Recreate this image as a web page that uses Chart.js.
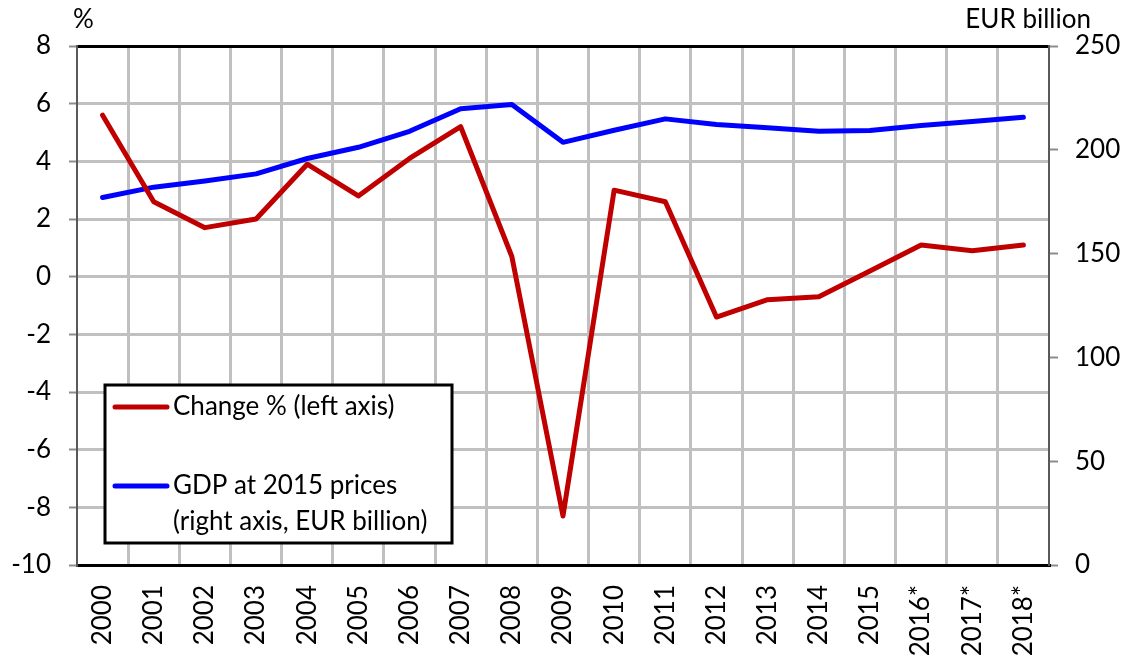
<!DOCTYPE html>
<html>
<head>
<meta charset="utf-8">
<script src="https://cdn.jsdelivr.net/npm/chart.js@4"></script>
<style>
  html, body { margin: 0; padding: 0; background: #fff; }
  #wrap { width: 1129px; height: 659px; }
</style>
</head>
<body>
<div id="wrap"><canvas id="gdpChart" width="1129" height="659"></canvas></div>
<script>
const years = ["2000", "2001", "2002", "2003", "2004", "2005", "2006", "2007", "2008", "2009",
    "2010", "2011", "2012", "2013", "2014", "2015", "2016*", "2017*", "2018*"];
const changePct = [5.6, 2.6, 1.7, 2.0, 3.9, 2.8, 4.1, 5.2, 0.7, -8.3,
    3.0, 2.6, -1.4, -0.8, -0.7, 0.2, 1.1, 0.9, 1.1];
const gdpBillion = [177, 182, 185, 188.4, 195.8, 201.2, 208.9, 219.8, 221.8, 203.6,
    209.4, 214.9, 212.2, 210.6, 208.9, 209.3, 211.7, 213.6, 215.7];
const leftTicks = { min: -10, max: 8, step: 2 };
const rightTicks = { min: 0, max: 250, step: 50 };
const seriesLabels = ["Change % (left axis)", "GDP at 2015 prices (right axis, EUR billion)"];
const legendLines = [["Change % (left axis)"], ["GDP at 2015 prices", "(right axis, EUR billion)"]];
const axisTitles = ["%", "EUR billion"];

const FONT = "Lato, 'Open Sans', sans-serif";
const FSIZE = 26;
const RED = "#c00000";
const BLUE = "#0000ff";

const boxPlugin = {
    id: "boxLegend",
    afterDraw(chart) {
        const ctx = chart.ctx;
        ctx.save();
        // axis titles
        ctx.fillStyle = "#000";
        ctx.font = FSIZE + "px " + FONT;
        ctx.textBaseline = "alphabetic";
        ctx.textAlign = "left";
        ctx.fillText(axisTitles[0], 73, 28);
        ctx.textAlign = "right";
        ctx.fillText(axisTitles[1], 1091, 28);

        // legend box
        ctx.fillStyle = "#fff";
        ctx.fillRect(105, 385, 347, 158);
        ctx.strokeStyle = "#000";
        ctx.lineWidth = 3;
        ctx.strokeRect(105, 385, 347, 158);

        const rows = [407, 486];
        chart.data.datasets.forEach((ds, i) => {
            const y = rows[i];
            ctx.strokeStyle = ds.borderColor;
            ctx.lineWidth = 5;
            ctx.lineCap = "round";
            ctx.beginPath();
            ctx.moveTo(115, y);
            ctx.lineTo(167, y);
            ctx.stroke();
            ctx.fillStyle = "#000";
            ctx.textAlign = "left";
            ctx.textBaseline = "middle";
            legendLines[i].forEach((t, j) => ctx.fillText(t, 173, y + j * 36));
        });
        ctx.restore();
    }
};

new Chart(document.getElementById("gdpChart"), {
    type: "line",
    data: {
        labels: years,
        datasets: [
            {
                label: seriesLabels[0],
                data: changePct,
                yAxisID: "yLeft",
                borderColor: RED,
                borderWidth: 5,
                pointRadius: 0,
                tension: 0,
                borderJoinStyle: "round",
                borderCapStyle: "round",
            },
            {
                label: seriesLabels[1],
                data: gdpBillion,
                yAxisID: "yRight",
                borderColor: BLUE,
                borderWidth: 5,
                pointRadius: 0,
                tension: 0,
                borderJoinStyle: "round",
                borderCapStyle: "round",
            },
        ],
    },
    options: {
        responsive: false,
        animation: false,
        layout: { padding: { top: 46, left: 0, right: 0, bottom: 0 } },
        plugins: {
            legend: { display: false },
            tooltip: { enabled: false },
        },
        scales: {
            x: {
                type: "category",
                offset: true,
                afterFit(scale) { scale.height = 94; },
                grid: {
                    offset: true,
                    drawTicks: false,
                    lineWidth: 3,
                    color: (c) => (c.index > 0 ? "#c0c0c0" : "rgba(0,0,0,0)"),
                },
                border: { color: "#000", width: 3, z: 1 },
                ticks: {
                    autoSkip: false,
                    minRotation: 90,
                    maxRotation: 90,
                    padding: 20,
                    color: "#000",
                    font: { family: FONT, size: FSIZE },
                },
            },
            yLeft: {
                position: "left",
                min: leftTicks.min,
                max: leftTicks.max,
                afterFit(scale) { scale.width = 77; },
                grid: {
                    lineWidth: 3,
                    color: (c) => {
                        if (c.tick && c.tick.value === leftTicks.max) return "#000";
                        if (c.tick && c.tick.value === leftTicks.min) return "rgba(0,0,0,0)";
                        return "#c0c0c0";
                    },
                    tickColor: "#8c8c8c",
                    tickWidth: 2,
                    tickLength: 8,
                },
                border: { color: "#595959", width: 2, z: 1 },
                ticks: {
                    stepSize: leftTicks.step,
                    padding: 18,
                    color: "#000",
                    font: { family: FONT, size: FSIZE },
                },
            },
            yRight: {
                position: "right",
                min: rightTicks.min,
                max: rightTicks.max,
                afterFit(scale) { scale.width = 80; },
                grid: {
                    drawOnChartArea: false,
                    tickColor: "#8c8c8c",
                    tickWidth: 2,
                    tickLength: 9,
                },
                border: { color: "#595959", width: 2, z: 1 },
                ticks: {
                    stepSize: rightTicks.step,
                    padding: 17,
                    color: "#000",
                    font: { family: FONT, size: FSIZE },
                },
            },
        },
    },
    plugins: [boxPlugin],
});
</script>
</body>
</html>
